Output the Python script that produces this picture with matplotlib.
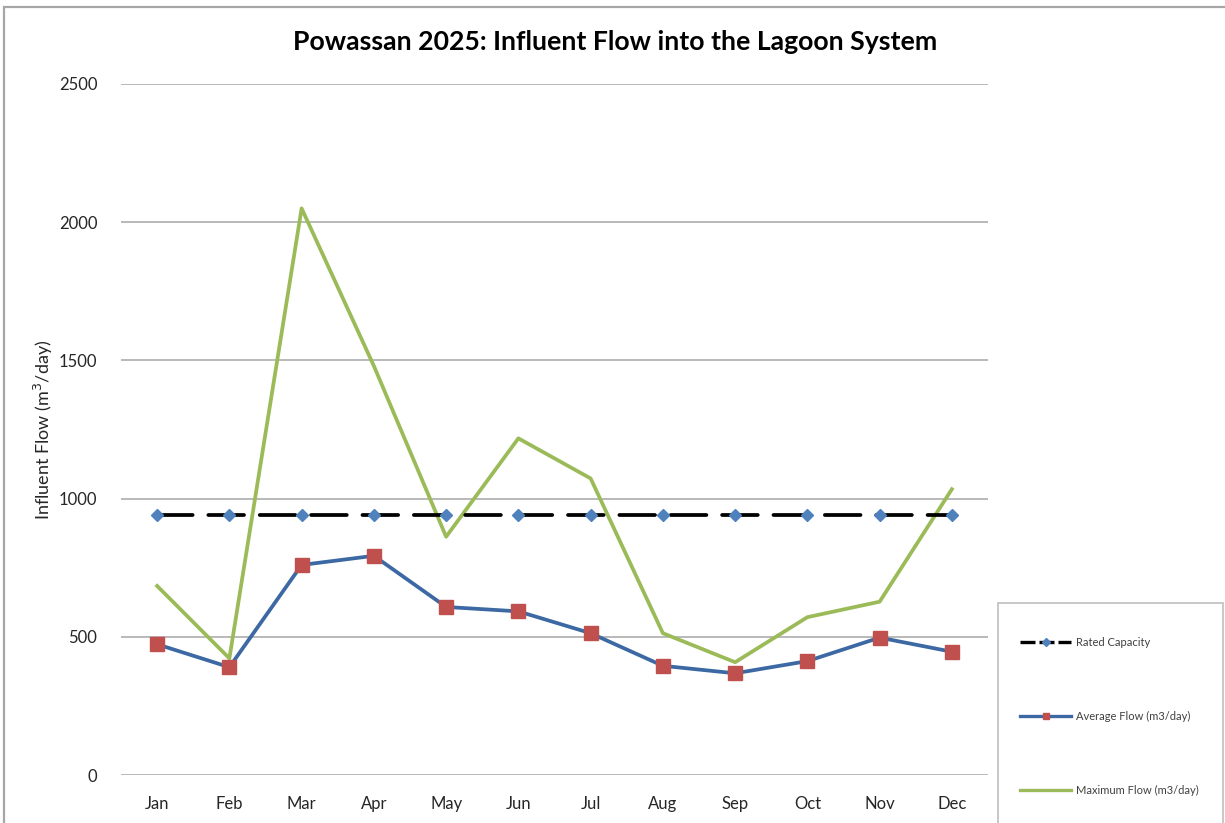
import matplotlib
matplotlib.use("Agg")
import matplotlib.pyplot as plt
from matplotlib.patches import Rectangle
from matplotlib.lines import Line2D

months = ["Jan", "Feb", "Mar", "Apr", "May", "Jun", "Jul", "Aug", "Sep", "Oct", "Nov", "Dec"]
rated_capacity = [940] * 12
average_flow = [473, 390, 760, 793, 608, 592, 513, 395, 368, 412, 497, 446]
maximum_flow = [684, 422, 2050, 1480, 862, 1218, 1073, 513, 408, 571, 627, 1034]
y_ticks = [0, 500, 1000, 1500, 2000, 2500]

plt.rcParams['font.family'] = ['Lato', 'DejaVu Sans']

W, H = 1225, 823
fig = plt.figure(figsize=(W / 100, H / 100), dpi=100)

# outer chart border (cropped at right/bottom)
fig.patches.append(Rectangle((4 / W, -0.1), 1.2, (H - 7) / H + 0.1, transform=fig.transFigure,
                             fill=False, edgecolor='#a6a6a6', linewidth=1.6, zorder=0))

ax = fig.add_axes([121 / W, (H - 775) / H, (988 - 121) / W, (775 - 84) / H])
x = list(range(len(months)))

GREEN, BLUE_LINE, RED, BLUE_MK = '#9bbb59', '#3c69a3', '#c0504d', '#4f81bd'
DASH = (0, (9.5, 4.2))

ax.plot(x, maximum_flow, color=GREEN, linewidth=2.7, zorder=3)
ax.plot(x, average_flow, color=BLUE_LINE, linewidth=2.7, marker='s', markersize=9.5,
        markerfacecolor=RED, markeredgecolor=RED, zorder=4)
ax.plot(x, rated_capacity, color='black', linewidth=2.7, linestyle=DASH,
        dash_capstyle='round', marker='D', markersize=6.5, markerfacecolor=BLUE_MK,
        markeredgecolor=BLUE_MK, zorder=5)

ax.set_xlim(-0.5, 11.5)
ax.set_ylim(0, 2500)
ax.set_yticks(y_ticks)
ax.set_xticks(x)
ax.set_xticklabels(months)
ax.yaxis.grid(True, color='#a6a6a6', linewidth=1.1)
ax.set_axisbelow(True)
for s in ax.spines.values():
    s.set_visible(False)
ax.tick_params(axis='both', length=0, labelsize=12, colors='#262626')
ax.tick_params(axis='y', pad=17)
ax.tick_params(axis='x', pad=15)

ax.set_ylabel('Influent Flow (m$^3$/day)', fontsize=13, color='#262626', labelpad=3)

fig.text(615 / W, 1 - 42 / H, 'Powassan 2025: Influent Flow into the Lagoon System',
         ha='center', va='center', fontsize=19.2, fontweight='bold', color='black')

# legend box (cropped at bottom)
fig.patches.append(Rectangle((998 / W, -0.1), (1223 - 998) / W, (H - 603) / H + 0.1,
                             transform=fig.transFigure, fill=False, edgecolor='#bfbfbf',
                             linewidth=1.2, zorder=0))
h_rated = Line2D([], [], color='black', linewidth=2.4, linestyle=(0, (4.5, 1.2)),
                 marker='D', markersize=4, markerfacecolor=BLUE_MK, markeredgecolor=BLUE_MK)
h_avg = Line2D([], [], color=BLUE_LINE, linewidth=2.4, marker='s', markersize=5,
               markerfacecolor=RED, markeredgecolor=RED)
h_max = Line2D([], [], color=GREEN, linewidth=2.4)
leg = fig.legend([h_rated, h_avg, h_max],
                 ['Rated Capacity', 'Average Flow (m3/day)', 'Maximum Flow (m3/day)'],
                 loc='upper left', bbox_to_anchor=(1020 / W, 1 - 637 / H),
                 frameon=False, fontsize=8, labelspacing=5.65, handlelength=4.6,
                 handletextpad=0.45, numpoints=1, borderaxespad=0, borderpad=0)
for t in leg.get_texts():
    t.set_color('#404040')

fig.savefig('out.png', dpi=100)
